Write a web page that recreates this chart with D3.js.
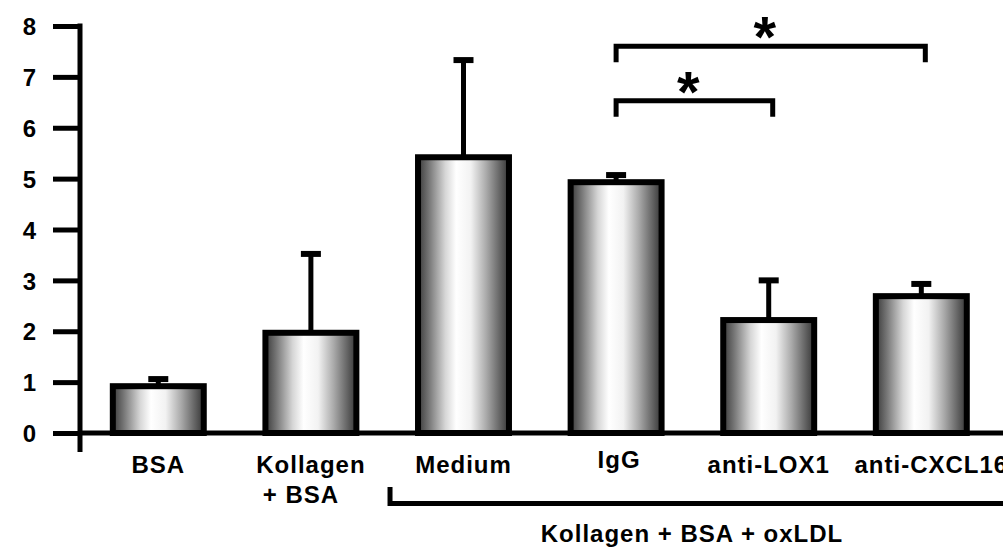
<!DOCTYPE html>
<html>
<head>
<meta charset="utf-8">
<script src="https://cdn.jsdelivr.net/npm/d3@7"></script>
<style>
  html, body { margin: 0; padding: 0; background: #fff; }
  svg { display: block; }
  text { font-family: "Liberation Sans", Arial, Helvetica, sans-serif; font-weight: bold; fill: #000; }
</style>
</head>
<body>
<svg id="chart" width="1003" height="547"></svg>
<script>
// Groups along the x axis
const categories = ["BSA", "Kollagen + BSA", "Medium", "IgG", "anti-LOX1", "anti-CXCL16"];
// Mean values
const means = [0.92, 1.97, 5.42, 4.93, 2.22, 2.69];
// Upper end of the error bars (mean + SD)
const errorTops = [1.06, 3.52, 7.33, 5.07, 3.0, 2.93];
// Y tick labels
const yTicks = [0, 1, 2, 3, 4, 5, 6, 7, 8];
// Significance brackets: compared groups and bracket height in data units
const sigFrom = ["IgG", "IgG"];
const sigTo = ["anti-CXCL16", "anti-LOX1"];
const sigLevel = [7.6, 6.53];
const sigMark = ["*", "*"];
// Label for the bracket below the treated groups
const groupLabel = "Kollagen + BSA + oxLDL";
const groupMembers = ["Medium", "IgG", "anti-LOX1", "anti-CXCL16"];

const svg = d3.select("#chart");

const y = d3.scaleLinear().domain([0, 8]).range([433, 26]);
const x = d3.scaleBand()
  .domain(categories)
  .range([80, 999.6])
  .paddingInner(0.404)
  .paddingOuter(0.215);

const cx = c => x(c) + x.bandwidth() / 2;

// Horizontal shading of the cylinder-like bars
const defs = svg.append("defs");
const grad = defs.append("linearGradient")
  .attr("id", "barShade")
  .attr("x1", "0%").attr("x2", "100%").attr("y1", "0%").attr("y2", "0%");
[
  [0, "#3a3a3a"], [0.12, "#767676"], [0.3, "#d6d6d6"], [0.42, "#ffffff"],
  [0.58, "#f2f2f2"], [0.75, "#aaaaaa"], [0.9, "#646464"], [1, "#353535"]
].forEach(([o, c]) => grad.append("stop").attr("offset", o).attr("stop-color", c));

// Error bars (upward only)
const err = svg.append("g").attr("class", "errors");
categories.forEach((c, i) => {
  err.append("line")
    .attr("x1", cx(c)).attr("x2", cx(c))
    .attr("y1", y(means[i])).attr("y2", y(errorTops[i]))
    .attr("stroke", "#000").attr("stroke-width", 5);
  err.append("line")
    .attr("x1", cx(c) - 10).attr("x2", cx(c) + 10)
    .attr("y1", y(errorTops[i])).attr("y2", y(errorTops[i]))
    .attr("stroke", "#000").attr("stroke-width", 6);
});

// Bars
svg.append("g").attr("class", "bars")
  .selectAll("rect")
  .data(categories)
  .join("rect")
  .attr("x", d => x(d))
  .attr("width", x.bandwidth())
  .attr("y", (d, i) => y(means[i]))
  .attr("height", (d, i) => y(0) - y(means[i]))
  .attr("fill", "url(#barShade)")
  .attr("stroke", "#000")
  .attr("stroke-width", 6);

// Y axis
const yAxis = svg.append("g")
  .attr("transform", "translate(80,0)")
  .call(d3.axisLeft(y).tickValues(yTicks).tickFormat(d3.format("d")).tickSize(27).tickPadding(17));
yAxis.select(".domain").remove();
yAxis.selectAll(".tick line").attr("stroke", "#000").attr("stroke-width", 5);
yAxis.selectAll(".tick text").style("font-size", "24px").attr("dy", "0.36em");
svg.append("line")
  .attr("x1", 80).attr("x2", 80).attr("y1", y(8) - 2.5).attr("y2", 452)
  .attr("stroke", "#000").attr("stroke-width", 5);

// X axis baseline
svg.append("line")
  .attr("x1", 78).attr("x2", 1003).attr("y1", y(0)).attr("y2", y(0))
  .attr("stroke", "#000").attr("stroke-width", 5);

// Category labels
const labelOffsets = { "IgG": [3, -5], "anti-CXCL16": [10, 0] };
const labels = svg.append("g").attr("class", "xlabels")
  .style("font-size", "24px").style("letter-spacing", "1px");
categories.forEach(c => {
  const [dx, dy] = labelOffsets[c] || [0, 0];
  if (c === "Kollagen + BSA") {
    labels.append("text").attr("x", cx(c)).attr("y", 473)
      .attr("text-anchor", "middle").text("Kollagen");
    labels.append("text").attr("x", cx(c) - 10).attr("y", 503)
      .attr("text-anchor", "middle").text("+ BSA");
  } else {
    labels.append("text").attr("x", cx(c) + dx).attr("y", 473 + dy)
      .attr("text-anchor", "middle").text(c);
  }
});

// Bracket grouping the oxLDL-treated conditions
const gx0 = x(groupMembers[0]) - 28;
svg.append("path")
  .attr("d", `M${gx0},487 V503.5 H1003`)
  .attr("fill", "none").attr("stroke", "#000").attr("stroke-width", 5);
svg.append("text")
  .attr("x", 692).attr("y", 542)
  .attr("text-anchor", "middle")
  .style("font-size", "24px").style("letter-spacing", "1px")
  .text(groupLabel);

// Significance brackets
sigFrom.forEach((f, i) => {
  const x1 = cx(f), x2 = cx(sigTo[i]) + 4, yy = y(sigLevel[i]);
  svg.append("path")
    .attr("d", `M${x1},${yy + 16} V${yy} H${x2} V${yy + 16}`)
    .attr("fill", "none").attr("stroke", "#000").attr("stroke-width", 5);
  svg.append("text")
    .attr("x", (x1 + x2) / 2 - 6).attr("y", yy + 11)
    .attr("text-anchor", "middle")
    .style("font-size", "58px")
    .text(sigMark[i]);
});
</script>
</body>
</html>
